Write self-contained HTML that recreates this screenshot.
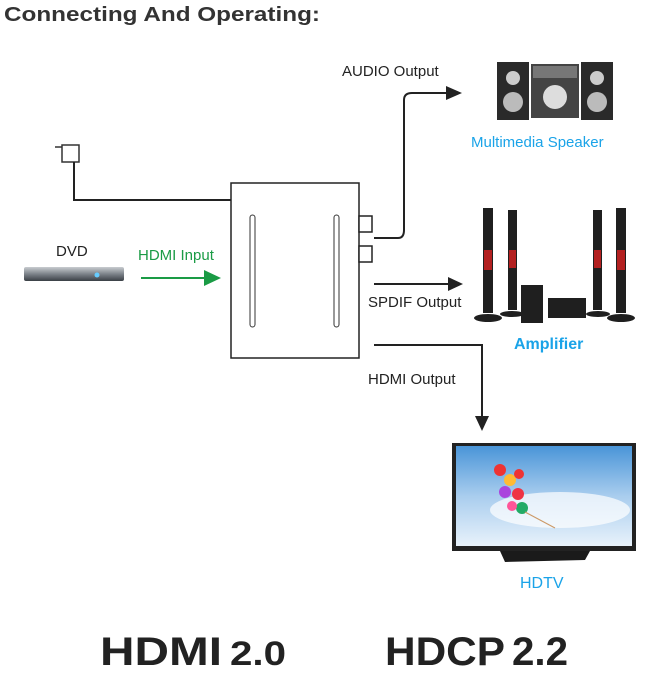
<!DOCTYPE html>
<html><head><style>
body{margin:0;width:669px;height:669px;background:#fff;overflow:hidden;font-family:"Liberation Sans",sans-serif}
</style></head><body>
<svg width="669" height="669" viewBox="0 0 669 669" xmlns="http://www.w3.org/2000/svg" font-family="Liberation Sans, sans-serif">
<defs>
<linearGradient id="sky" x1="0" y1="0" x2="0" y2="1"><stop offset="0" stop-color="#4a95d8"/><stop offset="0.5" stop-color="#a9cdee"/><stop offset="1" stop-color="#e8f2fb"/></linearGradient>
<linearGradient id="dvd" x1="0" y1="0" x2="0" y2="1"><stop offset="0" stop-color="#c8ccd0"/><stop offset="0.5" stop-color="#7d838a"/><stop offset="1" stop-color="#3a3f45"/></linearGradient>
</defs>
<text x="4" y="21" font-size="20" font-weight="bold" fill="#333" textLength="316" lengthAdjust="spacingAndGlyphs">Connecting And Operating:</text>

<!-- power adapter -->
<rect x="62" y="145" width="17" height="17" fill="#fff" stroke="#333" stroke-width="1.5"/>
<line x1="55" y1="147" x2="62" y2="147" stroke="#333" stroke-width="1.5"/>
<polyline points="74,162 74,200 231,200" fill="none" stroke="#222" stroke-width="2"/>

<!-- main box -->
<rect x="231" y="183" width="128" height="175" fill="#fff" stroke="#222" stroke-width="1.5"/>
<rect x="250" y="215" width="5" height="112" rx="2.5" fill="#fff" stroke="#333" stroke-width="1"/>
<rect x="334" y="215" width="5" height="112" rx="2.5" fill="#fff" stroke="#333" stroke-width="1"/>
<rect x="359" y="216" width="13" height="16" fill="#fff" stroke="#222" stroke-width="1.5"/>
<rect x="359" y="246" width="13" height="16" fill="#fff" stroke="#222" stroke-width="1.5"/>

<!-- audio output -->
<path d="M374,238 L398,238 Q404,238 404,230 L404,100 Q404,93 412,93 L448,93" fill="none" stroke="#222" stroke-width="2"/>
<polygon points="446,86 462,93 446,100" fill="#222"/>
<text x="342" y="76" font-size="15" fill="#222">AUDIO Output</text>

<!-- SPDIF -->
<line x1="374" y1="284" x2="450" y2="284" stroke="#222" stroke-width="2"/>
<polygon points="448,277 463,284 448,291" fill="#222"/>
<text x="368" y="307" font-size="15" fill="#222">SPDIF Output</text>

<!-- HDMI out -->
<polyline points="374,345 482,345 482,418" fill="none" stroke="#222" stroke-width="2"/>
<polygon points="475,416 482,431 489,416" fill="#222"/>
<text x="368" y="384" font-size="15" fill="#222">HDMI Output</text>

<!-- DVD -->
<text x="56" y="256" font-size="15" fill="#222">DVD</text>
<rect x="24" y="267" width="100" height="14" rx="2" fill="url(#dvd)"/>
<circle cx="97" cy="275" r="2.5" fill="#6cf"/>
<text x="138" y="260" font-size="15" fill="#1a9b45">HDMI Input</text>
<line x1="141" y1="278" x2="208" y2="278" stroke="#1a9b45" stroke-width="2"/>
<polygon points="204,270 221,278 204,286" fill="#1a9b45"/>

<!-- speakers -->
<rect x="497" y="62" width="32" height="58" fill="#2a2a2a"/>
<circle cx="513" cy="78" r="7" fill="#ccc"/><circle cx="513" cy="102" r="10" fill="#bbb"/>
<rect x="581" y="62" width="32" height="58" fill="#2a2a2a"/>
<circle cx="597" cy="78" r="7" fill="#ccc"/><circle cx="597" cy="102" r="10" fill="#bbb"/>
<rect x="531" y="64" width="48" height="54" fill="#444"/>
<rect x="533" y="66" width="44" height="12" fill="#777"/>
<circle cx="555" cy="97" r="12" fill="#ddd"/>
<text x="471" y="147" font-size="15" fill="#1aa3e8">Multimedia Speaker</text>

<!-- amplifier -->
<g fill="#1f1f1f">
<rect x="483" y="208" width="10" height="105"/><rect x="508" y="210" width="9" height="100"/>
<rect x="593" y="210" width="9" height="100"/><rect x="616" y="208" width="10" height="105"/>
<ellipse cx="488" cy="318" rx="14" ry="4"/><ellipse cx="512" cy="314" rx="12" ry="3"/>
<ellipse cx="598" cy="314" rx="12" ry="3"/><ellipse cx="621" cy="318" rx="14" ry="4"/>
<rect x="521" y="285" width="22" height="38"/>
<rect x="548" y="298" width="38" height="20"/>
</g>
<g fill="#b32020"><rect x="484" y="250" width="8" height="20"/><rect x="509" y="250" width="7" height="18"/><rect x="594" y="250" width="7" height="18"/><rect x="617" y="250" width="8" height="20"/></g>
<text x="514" y="349" font-size="16" font-weight="bold" fill="#1aa3e8">Amplifier</text>

<!-- TV -->
<rect x="452" y="443" width="184" height="108" fill="#222"/>
<rect x="456" y="446" width="176" height="100" fill="url(#sky)"/>
<ellipse cx="560" cy="510" rx="70" ry="18" fill="#fff" opacity="0.7"/>
<g><circle cx="500" cy="470" r="6" fill="#e33"/><circle cx="510" cy="480" r="6" fill="#fb3"/><circle cx="505" cy="492" r="6" fill="#a4d"/><circle cx="518" cy="494" r="6" fill="#e34"/><circle cx="522" cy="508" r="6" fill="#2a6"/><circle cx="512" cy="506" r="5" fill="#f59"/><circle cx="519" cy="474" r="5" fill="#e33"/></g>
<line x1="525" y1="512" x2="555" y2="528" stroke="#c96" stroke-width="1"/>
<polygon points="500,551 590,551 585,560 505,562" fill="#1a1a1a"/>
<text x="520" y="588" font-size="16" fill="#1aa3e8">HDTV</text>

<!-- logos -->
<text x="100" y="665" font-size="40" font-weight="bold" fill="#222" textLength="122" lengthAdjust="spacingAndGlyphs" font-family="Liberation Sans Narrow, Liberation Sans, sans-serif">HDMI</text>
<text x="230" y="665" font-size="34" font-weight="bold" fill="#222" textLength="56" lengthAdjust="spacingAndGlyphs">2.0</text>
<text x="385" y="665" font-size="40" font-weight="bold" fill="#222" textLength="120" lengthAdjust="spacingAndGlyphs">HDCP</text>
<text x="512" y="665" font-size="40" font-weight="bold" fill="#222" textLength="56" lengthAdjust="spacingAndGlyphs">2.2</text>
</svg>
</body></html>
